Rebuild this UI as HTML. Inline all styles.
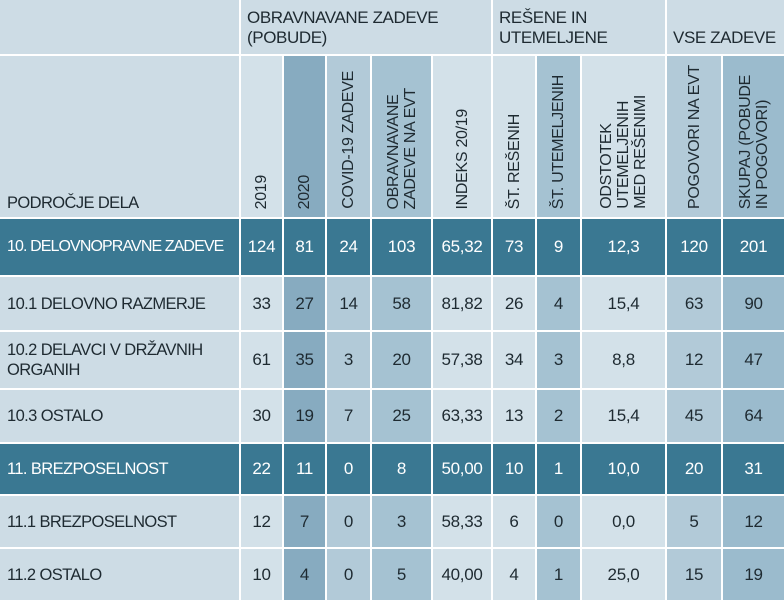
<!DOCTYPE html>
<html><head><meta charset="utf-8"><style>
*{margin:0;padding:0;box-sizing:border-box}
body{width:784px;height:600px;background:#fff;overflow:hidden;font-family:"Liberation Sans Narrow","Liberation Sans",sans-serif;color:#1e2a31}
.g{display:grid;grid-template-columns:239px 41px 41px 43px 59px 58px 42px 43px 83px 54px 61px;grid-template-rows:54px 161px 56px 53px 56px 52px 50px 51px 51px;gap:2px;background:#fff;width:784px;height:600px}
.g>div{background:#cddce5;font-size:17px;display:flex;align-items:center;justify-content:center;overflow:hidden;white-space:nowrap;letter-spacing:-0.3px}
.c2{background:#87abc0!important}.c3{background:#b2cad8!important}.c4{background:#a5c2d2!important}.c7{background:#a5c2d2!important}.c9{background:#b2cad8!important}.c10{background:#9bbbcd!important}
.c1,.c5,.c6,.c8{background:#d3e1e9!important}
.d{background:#3a7892!important;color:#fff}
.l{justify-content:flex-start!important;padding-left:7px;white-space:nowrap!important;line-height:20px;letter-spacing:-0.6px!important;font-size:16.5px!important}
.gh{justify-content:flex-start!important;align-items:flex-end!important;padding:0 0 6px 6px;line-height:20px;font-size:17px!important;white-space:normal!important;letter-spacing:-0.4px!important}
.h{align-items:flex-end!important;padding-bottom:8px}
.h span{writing-mode:vertical-rl;transform:rotate(180deg);font-size:16px;line-height:17px;text-align:left;white-space:nowrap;letter-spacing:-0.3px}
</style></head><body>
<div class="g">
<div></div>
<div class="gh" style="grid-column:2/7">OBRAVNAVANE ZADEVE<br>(POBUDE)</div>
<div class="gh" style="grid-column:7/10">REŠENE IN<br>UTEMELJENE</div>
<div class="gh" style="grid-column:10/12">VSE ZADEVE</div>

<div class="l" style="align-items:flex-end;padding-bottom:4px">PODROČJE DELA</div>
<div class="h c1"><span>2019</span></div>
<div class="h c2"><span>2020</span></div>
<div class="h c3"><span>COVID-19 ZADEVE</span></div>
<div class="h c4"><span>OBRAVNAVANE<br>ZADEVE NA EVT</span></div>
<div class="h c5"><span>INDEKS 20/19</span></div>
<div class="h c6"><span>ŠT. REŠENIH</span></div>
<div class="h c7"><span>ŠT. UTEMELJENIH</span></div>
<div class="h c8"><span>ODSTOTEK<br>UTEMELJENIH<br>MED REŠENIMI</span></div>
<div class="h c9"><span>POGOVORI NA EVT</span></div>
<div class="h c10"><span>SKUPAJ (POBUDE<br>IN POGOVORI)</span></div>

<div class="l d" style="font-size:16px!important;letter-spacing:-0.9px!important">10. DELOVNOPRAVNE ZADEVE</div><div class="d">124</div><div class="d">81</div><div class="d">24</div><div class="d">103</div><div class="d">65,32</div><div class="d">73</div><div class="d">9</div><div class="d">12,3</div><div class="d">120</div><div class="d">201</div>

<div class="l">10.1 DELOVNO RAZMERJE</div><div class="c1">33</div><div class="c2">27</div><div class="c3">14</div><div class="c4">58</div><div class="c5">81,82</div><div class="c6">26</div><div class="c7">4</div><div class="c8">15,4</div><div class="c9">63</div><div class="c10">90</div>

<div class="l">10.2 DELAVCI V DRŽAVNIH<br>ORGANIH</div><div class="c1">61</div><div class="c2">35</div><div class="c3">3</div><div class="c4">20</div><div class="c5">57,38</div><div class="c6">34</div><div class="c7">3</div><div class="c8">8,8</div><div class="c9">12</div><div class="c10">47</div>

<div class="l">10.3 OSTALO</div><div class="c1">30</div><div class="c2">19</div><div class="c3">7</div><div class="c4">25</div><div class="c5">63,33</div><div class="c6">13</div><div class="c7">2</div><div class="c8">15,4</div><div class="c9">45</div><div class="c10">64</div>

<div class="l d">11. BREZPOSELNOST</div><div class="d">22</div><div class="d">11</div><div class="d">0</div><div class="d">8</div><div class="d">50,00</div><div class="d">10</div><div class="d">1</div><div class="d">10,0</div><div class="d">20</div><div class="d">31</div>

<div class="l">11.1 BREZPOSELNOST</div><div class="c1">12</div><div class="c2">7</div><div class="c3">0</div><div class="c4">3</div><div class="c5">58,33</div><div class="c6">6</div><div class="c7">0</div><div class="c8">0,0</div><div class="c9">5</div><div class="c10">12</div>

<div class="l">11.2 OSTALO</div><div class="c1">10</div><div class="c2">4</div><div class="c3">0</div><div class="c4">5</div><div class="c5">40,00</div><div class="c6">4</div><div class="c7">1</div><div class="c8">25,0</div><div class="c9">15</div><div class="c10">19</div>
</div>
</body></html>
